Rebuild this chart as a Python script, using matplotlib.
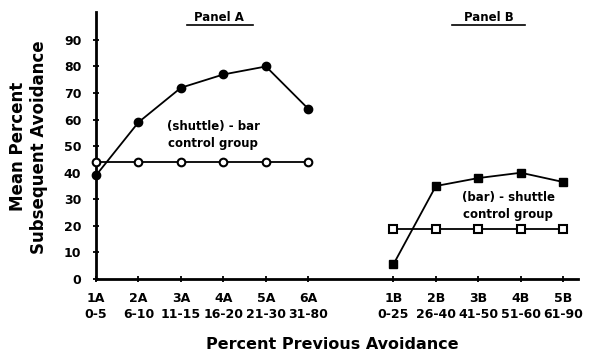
import matplotlib.pyplot as plt
import numpy as np

# panel A (shuttle - bar)
posA = [0, 1, 2, 3, 4, 5]
labelsA = ['1A\n0-5', '2A\n6-10', '3A\n11-15', '4A\n16-20', '5A\n21-30', '6A\n31-80']
expA = [39, 59, 72, 77, 80, 64]
ctrlA = [44, 44, 44, 44, 44, 44]

# panel B (bar - shuttle)
posB = [7, 8, 9, 10, 11]
labelsB = ['1B\n0-25', '2B\n26-40', '3B\n41-50', '4B\n51-60', '5B\n61-90']
expB = [5.5, 35, 38, 40, 36.5]
ctrlB = [19, 19, 19, 19, 19]

yticks = [0, 10, 20, 30, 40, 50, 60, 70, 80, 90]

fig = plt.figure(figsize=(5.9, 3.53), dpi=100)
ax = fig.add_axes([0.1627, 0.2096, 0.8173, 0.7564])

ax.plot(posA, ctrlA, '-o', color='black', lw=1.3, ms=5.5, mfc='white', mew=1.5, clip_on=False, zorder=3)
ax.plot(posA, expA, '-o', color='black', lw=1.3, ms=6, clip_on=False, zorder=4)
ax.plot(posB, ctrlB, '-s', color='black', lw=1.3, ms=5.5, mfc='white', mew=1.5, clip_on=False, zorder=3)
ax.plot(posB, expB, '-s', color='black', lw=1.3, ms=6, clip_on=False, zorder=4)

ax.set_xlim(0, 11.35)
ax.set_ylim(0, 100.5)
ax.set_xticks(posA + posB)
ax.set_xticklabels(labelsA + labelsB, fontsize=9, fontweight='bold', linespacing=1.3)
ax.set_yticks(yticks)
ax.set_yticklabels([str(v) for v in yticks], fontsize=9, fontweight='bold')
ax.tick_params(direction='inout', length=5, width=1.3)
ax.tick_params(axis='x', pad=7)
ax.tick_params(axis='y', pad=8)

for s in ['top', 'right']:
    ax.spines[s].set_visible(False)
ax.spines['left'].set_linewidth(2)
ax.spines['bottom'].set_linewidth(2)

ax.text(2.9, 98.5, 'Panel A', ha='center', va='center', fontsize=8.5, fontweight='bold')
ax.plot([2.14, 3.69], [95.6, 95.6], color='black', lw=1.2, clip_on=False)
ax.text(9.25, 98.5, 'Panel B', ha='center', va='center', fontsize=8.5, fontweight='bold')
ax.plot([8.39, 10.1], [95.6, 95.6], color='black', lw=1.2, clip_on=False)

ax.text(2.76, 57.3, '(shuttle) - bar', ha='center', va='center', fontsize=8.5, fontweight='bold')
ax.text(2.76, 50.9, 'control group', ha='center', va='center', fontsize=8.5, fontweight='bold')
ax.text(9.7, 30.5, '(bar) - shuttle', ha='center', va='center', fontsize=8.5, fontweight='bold')
ax.text(9.7, 24.1, 'control group', ha='center', va='center', fontsize=8.5, fontweight='bold')

fig.text(0.048, 0.584, 'Mean Percent\nSubsequent Avoidance', rotation=90, ha='center', va='center',
         fontsize=12, fontweight='bold', linespacing=1.2)
fig.text(0.563, 0.025, 'Percent Previous Avoidance', ha='center', va='center', fontsize=11.5, fontweight='bold')

fig.savefig('out.png', dpi=100)
